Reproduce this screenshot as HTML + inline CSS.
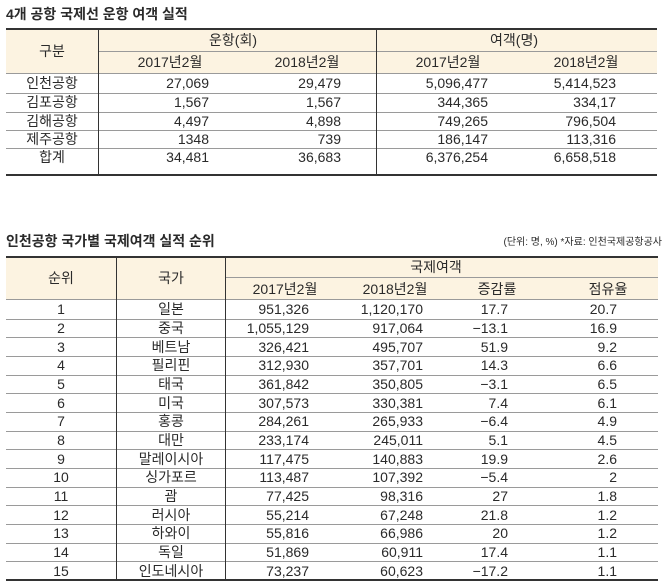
<!DOCTYPE html>
<html><head><meta charset="utf-8">
<style>
body{margin:0;width:669px;height:586px;background:#fff;position:relative;overflow:hidden;font-family:"Liberation Sans","Noto Sans CJK KR",sans-serif;color:#2a2a2a}
.a{position:absolute}
.t{position:absolute;font-size:14px;line-height:18px;white-space:nowrap}
.c{transform:translateX(-50%)}
.r{transform:translateX(-100%)}
.hl{position:absolute;height:1px;background:#9a9a9a}
.bl{position:absolute;height:2px;background:#333}
.vl{position:absolute;width:1px;background:#333}
.bg{position:absolute;background:#fcf3e1}
</style></head><body>
<div class="t" style="left:6px;top:5px;font-size:14px;font-weight:bold">4개 공항 국제선 운항 여객 실적</div>
<div id="t1"></div>
<div class="t" style="left:6px;top:232px;font-size:14px;font-weight:bold">인천공항 국가별 국제여객 실적 순위</div>
<div class="t" style="left:662px;top:234px;font-size:10px;transform:translateX(-100%)">(단위: 명, %) *자료: 인천국제공항공사</div>
<div id="t2"></div>
<script>
const airports=["인천공항","김포공항","김해공항","제주공항","합계"];
const flights2017=["27,069","1,567","4,497","1348","34,481"];
const flights2018=["29,479","1,567","4,898","739","36,683"];
const pax2017=["5,096,477","344,365","749,265","186,147","6,376,254"];
const pax2018=["5,414,523","334,17","796,504","113,316","6,658,518"];
const ranks=["1","2","3","4","5","6","7","8","9","10","11","12","13","14","15"];
const countries=["일본","중국","베트남","필리핀","태국","미국","홍콩","대만","말레이시아","싱가포르","괌","러시아","하와이","독일","인도네시아"];
const c2017=["951,326","1,055,129","326,421","312,930","361,842","307,573","284,261","233,174","117,475","113,487","77,425","55,214","55,816","51,869","73,237"];
const c2018=["1,120,170","917,064","495,707","357,701","350,805","330,381","265,933","245,011","140,883","107,392","98,316","67,248","66,986","60,911","60,623"];
const growth=["17.7","−13.1","51.9","14.3","−3.1","7.4","−6.4","5.1","19.9","−5.4","27","21.8","20","17.4","−17.2"];
const share=["20.7","16.9","9.2","6.6","6.5","6.1","4.9","4.5","2.6","2","1.8","1.2","1.2","1.1","1.1"];

function box(parent,cls,x,y,w,h,name){
  const d=document.createElement('div');d.className=cls;
  d.style.left=x+'px';d.style.top=y+'px';
  if(w!=null)d.style.width=w+'px';
  if(h!=null)d.style.height=h+'px';
  
  
  parent.appendChild(d);return d;
}
function txt(parent,s,x,yc,align,name){
  const d=document.createElement('div');d.className='t'+(align==='c'?' c':align==='r'?' r':'');
  d.textContent=s;d.style.left=x+'px';d.style.top=(yc-9)+'px';
  
  
  parent.appendChild(d);return d;
}
// Table 1
const t1=document.getElementById('t1');
const L=6,R=657;
box(t1,'bg',L,29,R-L,44,'t1-header-bg');
box(t1,'bl',L,28,R-L,null,'t1-top-border');
box(t1,'hl',98,51,R-98,null,'t1-header-sep');
box(t1,'hl',L,73,R-L,null,'t1-header-bottom');
const t1rows=[73,93,112,130,148,175];
for(let i=1;i<5;i++) box(t1,'hl',L,t1rows[i],R-L,null,'t1-row-line');
box(t1,'bl',L,174,R-L,null,'t1-bottom-border');
box(t1,'vl',98,29,null,146,'t1-col-divider');
box(t1,'vl',376,29,null,146,'t1-group-divider');
txt(t1,'구분',52,51,'c','t1-header-category');
txt(t1,'운항(회)',233,40,'c','t1-header-flights');
txt(t1,'여객(명)',514,40,'c','t1-header-passengers');
txt(t1,'2017년2월',170,62,'c','t1-header-2017-flights');
txt(t1,'2018년2월',307,62,'c','t1-header-2018-flights');
txt(t1,'2017년2월',448,62,'c','t1-header-2017-pax');
txt(t1,'2018년2월',586,62,'c','t1-header-2018-pax');
const t1yc=[83,102,121,139,157];
airports.forEach((a,i)=>{
  const y=t1yc[i];
  txt(t1,a,52,y,'c','airport-name');
  txt(t1,flights2017[i],209,y,'r','flights-2017');
  txt(t1,flights2018[i],341,y,'r','flights-2018');
  txt(t1,pax2017[i],488,y,'r','passengers-2017');
  txt(t1,pax2018[i],616,y,'r','passengers-2018');
});
// Table 2
const t2=document.getElementById('t2');
const R2=658;
box(t2,'bg',L,257,R2-L,43,'t2-header-bg');
box(t2,'bl',L,256,R2-L,null,'t2-top-border');
box(t2,'hl',225,277,R2-225,null,'t2-header-sep');
box(t2,'hl',L,299,R2-L,null,'t2-header-bottom');
const top2=300,pitch=18.67;
for(let i=1;i<15;i++) box(t2,'hl',L,Math.round(top2+pitch*i),R2-L,null,'t2-row-line');
box(t2,'bl',L,579,R2-L,null,'t2-bottom-border');
box(t2,'vl',116,257,null,323,'t2-rank-divider');
box(t2,'vl',225,257,null,323,'t2-country-divider');
txt(t2,'순위',61,278,'c','t2-header-rank');
txt(t2,'국가',171,278,'c','t2-header-country');
txt(t2,'국제여객',436,267,'c','t2-header-intl-pax');
txt(t2,'2017년2월',285,289,'c','t2-header-2017');
txt(t2,'2018년2월',395,289,'c','t2-header-2018');
txt(t2,'증감률',497,289,'c','t2-header-growth');
txt(t2,'점유율',608,289,'c','t2-header-share');
ranks.forEach((rk,i)=>{
  const y=top2+pitch*i+pitch/2;
  txt(t2,rk,61,y,'c','rank');
  txt(t2,countries[i],171,y,'c','country');
  txt(t2,c2017[i],309,y,'r','pax-2017');
  txt(t2,c2018[i],423,y,'r','pax-2018');
  txt(t2,growth[i],508,y,'r','growth-rate');
  txt(t2,share[i],617,y,'r','share');
});
</script>
</body></html>
